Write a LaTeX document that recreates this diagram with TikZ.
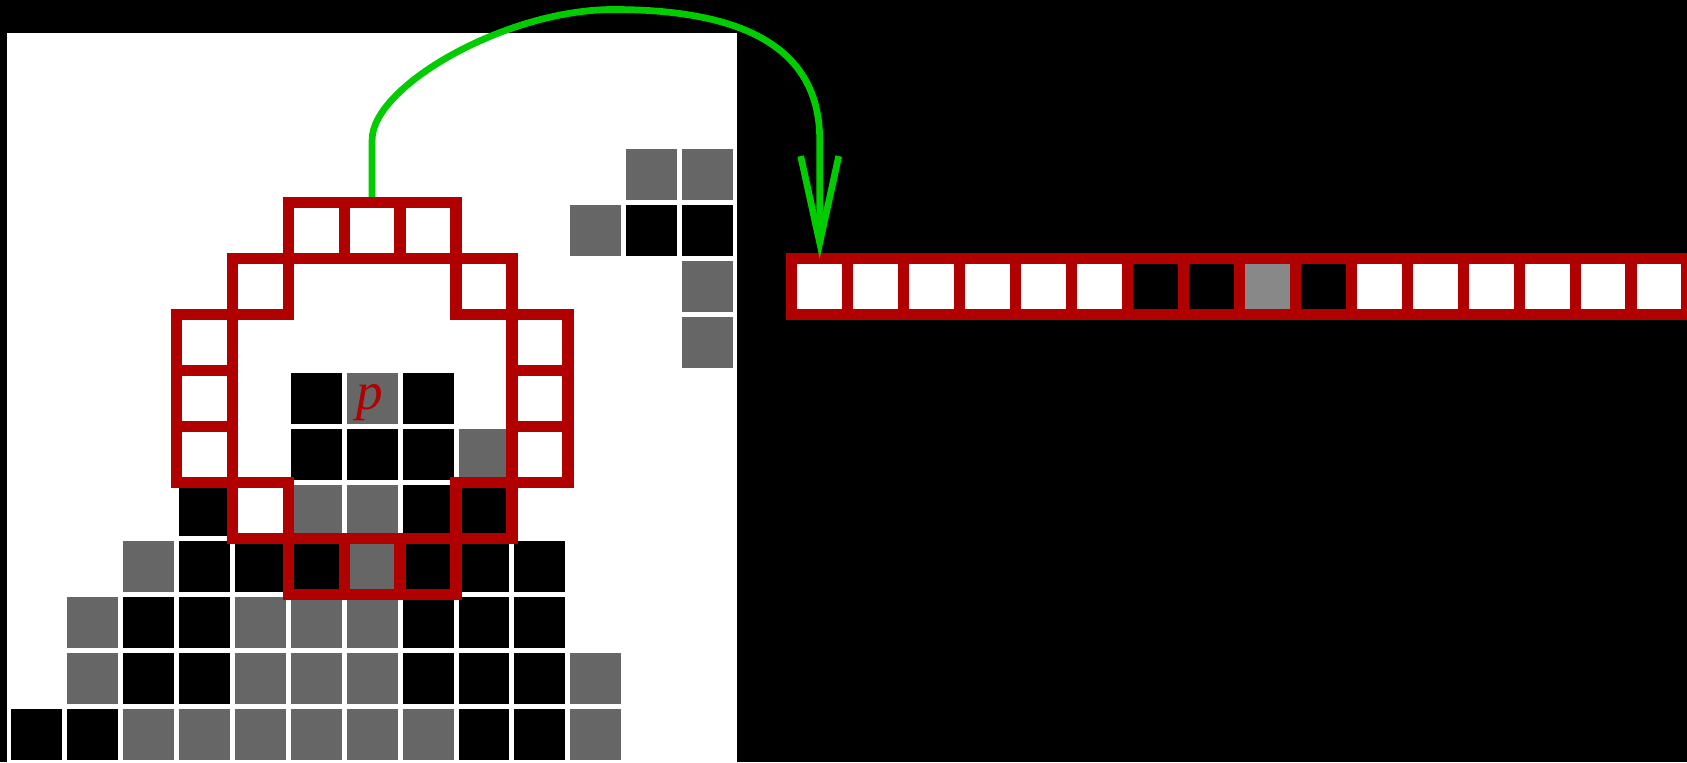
\documentclass[tikz,border=0pt]{standalone}
\usepackage{fontspec}
\newfontfamily\pfont{Liberation Serif}
\usetikzlibrary{arrows.meta}
\definecolor{ringred}{RGB}{176,0,0}
\definecolor{arrowgreen}{RGB}{0,204,0}
\definecolor{pixgray}{RGB}{102,102,102}
\definecolor{listgray}{RGB}{136,136,136}
\begin{document}
\begin{tikzpicture}[
  pix/.style={minimum size=1cm, inner sep=0pt, outer sep=0pt, draw=ringred, line width=0.2cm}]
\fill[black] (-0.15,0) rectangle (30,13.62);
\useasboundingbox (-0.15,0) rectangle (30,13.62);
\fill[white] (-0.03,-0.1) rectangle (13.02,13.03);
\foreach \c/\r in {0/0,1/0,8/0,9/0,2/1,3/1,7/1,8/1,9/1,2/2,3/2,7/2,8/2,9/2,3/3,4/3,5/3,7/3,8/3,9/3,3/4,7/4,8/4,5/5,6/5,7/5,5/6,7/6,11/9,12/9}
  \fill[black] (\c+0.045,\r+0.045) rectangle ++(0.91,0.91);
\foreach \c/\r in {2/0,3/0,4/0,5/0,6/0,7/0,10/0,1/1,4/1,5/1,6/1,10/1,1/2,4/2,5/2,6/2,2/3,6/3,5/4,6/4,8/5,6/6,12/7,12/8,10/9,11/10,12/10}
  \fill[pixgray] (\c+0.045,\r+0.045) rectangle ++(0.91,0.91);
\foreach \c/\r [count=\i] in {6/9,7/9,8/8,9/7,9/6,9/5,8/4,7/3,6/3,5/3,4/4,3/5,3/6,3/7,4/8,5/9}
  \node[pix] (ring\i) at (\c+0.5,\r+0.5) {};
\node[text=ringred, inner sep=0pt, font=\pfont\itshape\fontsize{27}{30}\selectfont] (p) at (6.45,6.43) {p};
\foreach \col [count=\i] in {white,white,white,white,white,white,black,black,listgray,black,white,white,white,white,white,white}
  \node[pix, fill=\col] (list\i) at (13.5+\i,8.5) {};
\draw[arrowgreen, line width=0.12cm, shorten <=0.1cm, -{Straight Barb[length=1.55cm,width=0.68cm]}] (ring1.north) -- (6.5,11.12)
  .. controls (6.5,12.08) and (8.89,13.45) .. (10.81,13.45)
  .. controls (13.31,13.45) and (14.5,12.66) .. (14.5,11.12) -- (list1.north);
\end{tikzpicture}
\end{document}
